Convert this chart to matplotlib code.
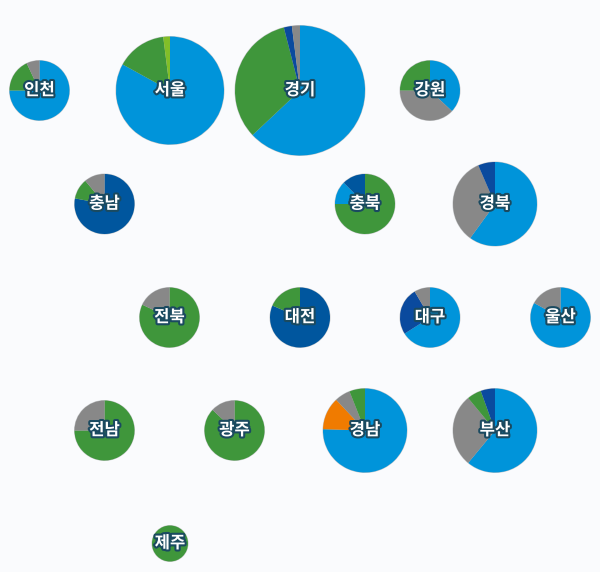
import matplotlib
matplotlib.use('Agg')
import matplotlib.pyplot as plt
import matplotlib.patheffects as pe

plt.rcParams['font.family'] = ['Noto Sans CJK KR', 'DejaVu Sans']

# share of each slice, clockwise from the top
regions = ['인천', '서울', '경기', '강원', '충남', '충북', '경북', '전북',
           '대전', '대구', '울산', '전남', '광주', '경남', '부산', '제주']
shares = [
    [75, 18, 7],
    [83, 15, 2],
    [63, 33, 2, 2],
    [37, 38, 25],
    [78, 11, 11],
    [75, 12.5, 12.5],
    [60, 33.5, 6.5],
    [82, 18],
    [81.5, 18.5],
    [66, 25.5, 8.5],
    [83, 17],
    [75, 25],
    [87, 13],
    [75.5, 12.5, 6, 6],
    [61, 28, 5.5, 5.5],
    [100],
]
parties = [
    ['blue', 'green', 'grey'],
    ['blue', 'green', 'lime'],
    ['blue', 'green', 'navy', 'grey'],
    ['blue', 'grey', 'green'],
    ['dark', 'green', 'grey'],
    ['green', 'blue', 'dark'],
    ['blue', 'grey', 'navy'],
    ['green', 'grey'],
    ['dark', 'green'],
    ['blue', 'navy', 'grey'],
    ['blue', 'grey'],
    ['green', 'grey'],
    ['green', 'grey'],
    ['blue', 'orange', 'grey', 'green'],
    ['blue', 'grey', 'green', 'navy'],
    ['green'],
]

# layout in pixels of the 600x572 picture
x_px = [39.5, 170, 300, 430, 104.5, 365, 495, 169.5, 300, 430, 560.5, 104.5, 234.5, 365, 495, 170]
y_px = [90.5, 90.5, 90.5, 90.5, 204, 204, 204, 317.5, 317.5, 317.5, 317.5, 430.5, 430.5, 430.5, 430.5, 543.5]
r_px = [30, 54, 65, 30, 30, 30, 42, 30, 30, 30, 30, 30, 30, 42, 42, 18]

colors = {'blue': '#0094da', 'green': '#3f963b', 'grey': '#888888', 'navy': '#0a4a9e',
          'dark': '#00569e', 'orange': '#f07b00', 'lime': '#82be28'}

fig = plt.figure(figsize=(6, 5.72), dpi=100, facecolor='#fafbfd')
ax = fig.add_axes([0, 0, 1, 1])

for i in range(len(regions)):
    cx = x_px[i]
    cy = 572 - y_px[i]
    # soft grey rim behind the pie
    ax.add_patch(plt.Circle((cx, cy), r_px[i] + 0.5, color='#c8cacc', lw=0, zorder=1))
    ax.pie(shares[i], colors=[colors[p] for p in parties[i]], center=(cx, cy), radius=r_px[i],
           startangle=90, counterclock=False, frame=True,
           wedgeprops={'linewidth': 0, 'zorder': 2})
    ax.text(cx, cy + 0.5, regions[i], color='white', fontsize=12, fontweight='bold',
            ha='center', va='center', zorder=3,
            path_effects=[pe.withStroke(linewidth=3, foreground='#1a4a60')])

ax.set_xlim(0, 600)
ax.set_ylim(0, 572)
ax.set_aspect('auto')
ax.axis('off')
fig.savefig('out.png', dpi=100, facecolor=fig.get_facecolor())
